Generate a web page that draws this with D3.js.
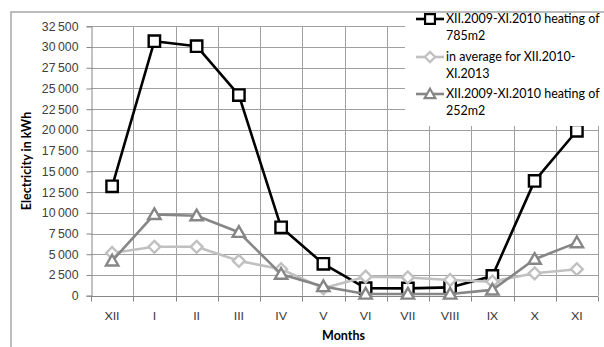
<!DOCTYPE html>
<html><head><meta charset="utf-8">
<script src="https://cdn.jsdelivr.net/npm/d3@7"></script>
<style>
body{margin:0;background:#fff;}
svg{display:block;font-family:Lato, "Open Sans", sans-serif;}
</style></head>
<body><svg id="c" width="604" height="347"></svg>
<script>
const months = ["XII","I","II","III","IV","V","VI","VII","VIII","IX","X","XI"];
const heating785 = [13200,30700,30100,24200,8250,3850,900,880,1000,2380,13850,19900];
const average = [5150,5900,5900,4200,3200,900,2300,2200,1900,1700,2700,3200];
const heating252 = [4200,9800,9650,7650,2600,1100,200,200,200,700,4400,6400];
const yTicks = d3.range(0, 32501, 2500);
const legendLabels = [["XII.2009-XI.2010 heating of","785m2"],["in average for XII.2010-","XI.2013"],["XII.2009-XI.2010 heating of","252m2"]];

const svg = d3.select("#c");
const L = 91, R = 598, T = 26.3, B = 295.7;
const x = d3.scaleBand().domain(months).range([L, R]);
const y = d3.scaleLinear().domain([0, 32500]).range([B, T]);
const fmt = v => d3.format(",")(v).replace(/,/g, "\u2009");

// outer border
svg.append("path").attr("d", `M11,347 V12 H604`).attr("fill","none").attr("stroke","#a6a6a6").attr("stroke-width",1.5);

// horizontal grid
svg.append("g").selectAll("line").data(yTicks.filter(d=>d>0)).join("line")
  .attr("x1", L).attr("x2", R).attr("y1", d=>Math.round(y(d))+0.5).attr("y2", d=>Math.round(y(d))+0.5)
  .attr("stroke","#a0a0a0").attr("stroke-width",1);
// vertical grid
const bounds = months.map((m,i)=>x(m)).concat([R]);
svg.append("g").selectAll("line").data(bounds.slice(1)).join("line")
  .attr("x1", d=>Math.round(d)+0.5).attr("x2", d=>Math.round(d)+0.5).attr("y1", T).attr("y2", B)
  .attr("stroke","#a0a0a0").attr("stroke-width",1);

// axes
const yAxis = d3.axisLeft(y).tickValues(yTicks).tickSize(5).tickPadding(8).tickFormat(fmt);
const gy = svg.append("g").attr("transform",`translate(${L+0.5},0)`).call(yAxis);
gy.select(".domain").attr("stroke","#868686");
gy.selectAll(".tick line").attr("stroke","#868686");
gy.selectAll("text").attr("font-size",12.3).attr("fill","#404040");

const gx = svg.append("g").attr("transform",`translate(0,${Math.round(B)+0.5})`);
gx.append("line").attr("x1",L).attr("x2",R).attr("stroke","#868686");
gx.selectAll(".tk").data(bounds).join("line").attr("class","tk")
  .attr("x1",d=>Math.round(d)+0.5).attr("x2",d=>Math.round(d)+0.5).attr("y1",0).attr("y2",5).attr("stroke","#868686");
gx.selectAll("text").data(months).join("text")
  .attr("x", d=>x(d)+x.bandwidth()/2).attr("y", 23).attr("text-anchor","middle")
  .attr("font-size",12.3).attr("fill","#404040").text(d=>d);

// titles
svg.append("text").attr("x", (L+R)/2 - 1).attr("y", 340).attr("text-anchor","middle")
  .attr("font-size",12.5).attr("font-weight","bold").attr("fill","#000").text("Months");
svg.append("text").attr("transform",`translate(31,${(T+B)/2}) rotate(-90)`).attr("text-anchor","middle")
  .attr("font-size",12.5).attr("font-weight","bold").attr("fill","#000").text("Electricity in kWh");

// series
const series = [
  {vals: heating785, color:"#000000", marker:"square"},
  {vals: average, color:"#c0c0c0", marker:"diamond"},
  {vals: heating252, color:"#868686", marker:"triangle"}
];
const cx = m => x(m) + x.bandwidth()/2;
const sym = {square: d3.symbolSquare, diamond: d3.symbolDiamond2, triangle: d3.symbolTriangle2};
const symSize = {square: 130, diamond: 90, triangle: 110};
const line = d3.line().x((d,i)=>cx(months[i])).y(d=>y(d));
series.forEach(s=>{
  svg.append("path").datum(s.vals).attr("d", line).attr("fill","none")
    .attr("stroke", s.color).attr("stroke-width",2.6).attr("stroke-linejoin","round");
  svg.append("g").selectAll("path").data(s.vals).join("path")
    .attr("transform",(d,i)=>`translate(${cx(months[i])},${y(d) + (s.marker==="triangle"?1:0)})`)
    .attr("d", d3.symbol().type(sym[s.marker]).size(symSize[s.marker]))
    .attr("fill","#fff").attr("stroke", s.color).attr("stroke-width",2.4);
});

// legend
const lg = svg.append("g");
lg.append("rect").attr("x",405).attr("y",13).attr("width",199).attr("height",113).attr("fill","#fff");
const rowY = [23, 61, 98];
series.forEach((s,i)=>{
  const yy = rowY[i] - 4;
  lg.append("line").attr("x1",416).attr("x2",444).attr("y1",yy).attr("y2",yy).attr("stroke",s.color).attr("stroke-width",2.6);
  lg.append("path").attr("transform",`translate(430,${yy+(s.marker==="triangle"?1:0)})`)
    .attr("d", d3.symbol().type(sym[s.marker]).size(symSize[s.marker]*0.75))
    .attr("fill","#fff").attr("stroke",s.color).attr("stroke-width",2.2);
  const t = lg.append("text").attr("x",446).attr("y",rowY[i]).attr("font-size",12.5).attr("fill","#000");
  t.append("tspan").attr("x",446).text(legendLabels[i][0]);
  t.append("tspan").attr("x",446).attr("dy",17).text(legendLabels[i][1]);
});
</script></body></html>
